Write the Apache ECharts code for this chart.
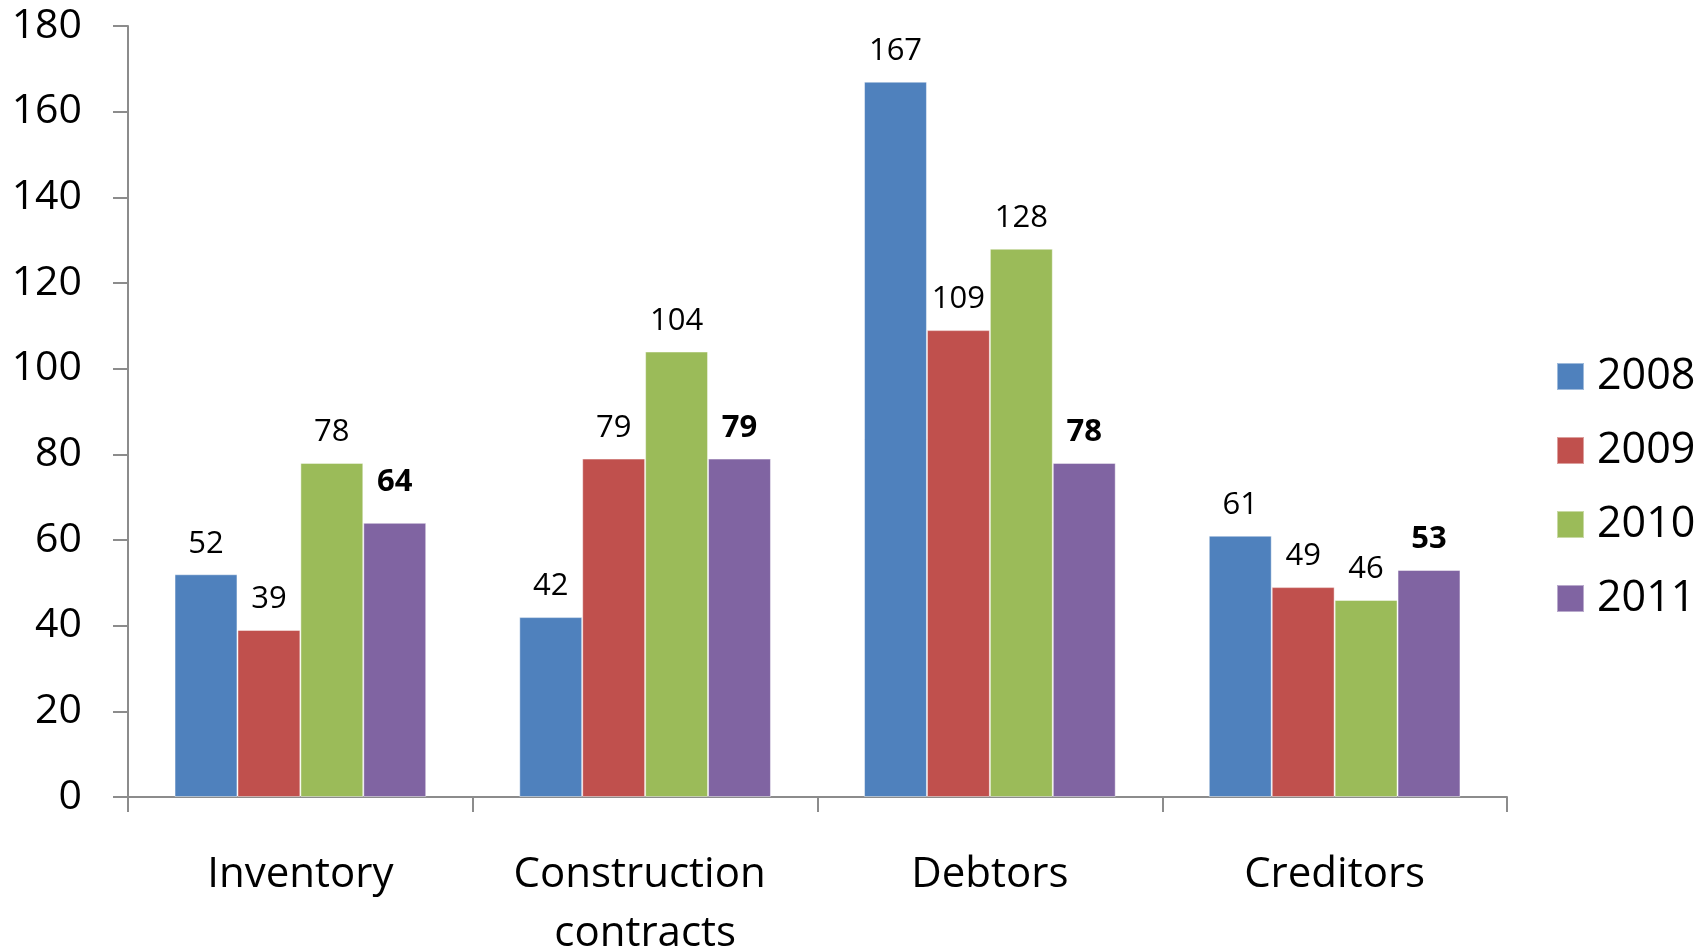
<!DOCTYPE html>
<html>
<head>
<meta charset="utf-8">
<script src="https://cdn.jsdelivr.net/npm/echarts@6/dist/echarts.min.js"></script>
<style>
  html, body { margin: 0; padding: 0; background: #fff; }
  #chart { width: 1708px; height: 951px; }
</style>
</head>
<body>
<div id="chart"></div>
<script>
// Balance-sheet items by year
const categories = ['Inventory', 'Construction contracts', 'Debtors', 'Creditors'];
const years = ['2008', '2009', '2010', '2011'];
const values2008 = [52, 42, 167, 61];
const values2009 = [39, 79, 109, 49];
const values2010 = [78, 104, 128, 46];
const values2011 = [64, 79, 78, 53];
const yTicks = [0, 20, 40, 60, 80, 100, 120, 140, 160, 180];

const colors = ['#4F81BD', '#C0504D', '#9BBB59', '#8064A2'];
const seriesValues = [values2008, values2009, values2010, values2011];
const FONT = '"Open Sans", "Noto Sans", sans-serif';

const chart = echarts.init(document.getElementById('chart'), null, { renderer: 'canvas' });

const series = years.map((y, i) => ({
  name: y,
  type: 'bar',
  // the 2011 Inventory label sits a little higher than the rest
  data: seriesValues[i].map((v, j) =>
    (i === 3 && j === 0) ? { value: v, label: { offset: [0, -10] } } : v),
  barGap: '0%',
  barCategoryGap: '27%',
  itemStyle: { color: colors[i], borderColor: 'rgba(255,255,255,0.45)', borderWidth: 1 },
  label: {
    show: true,
    position: 'top',
    distance: 15,
    fontFamily: FONT,
    fontSize: 31,
    color: '#000',
    fontWeight: i === 3 ? 'bold' : 'normal'
  }
}));

chart.setOption({
  animation: false,
  color: colors,
  grid: {
    left: 128, top: 26, width: 1379, height: 771,
    containLabel: false,
    outerBoundsMode: 'none'
  },
  legend: {
    orient: 'vertical',
    left: 1556,
    top: 354,
    padding: 0,
    itemWidth: 27,
    itemHeight: 27,
    itemGap: 29,
    icon: 'rect',
    data: years,
    textStyle: {
      fontFamily: FONT, fontSize: 43, color: '#000', lineHeight: 45,
      padding: [0, 0, 0, 8]
    }
  },
  xAxis: {
    type: 'category',
    data: categories,
    axisLine: { lineStyle: { color: '#8c8c8c', width: 2 } },
    axisTick: { show: true, length: 15, lineStyle: { color: '#8c8c8c', width: 2 } },
    axisLabel: {
      interval: 0,
      margin: 49,
      fontFamily: FONT,
      fontSize: 42,
      color: '#000',
      lineHeight: 59,
      width: 330,
      overflow: 'break'
    }
  },
  yAxis: {
    type: 'value',
    min: yTicks[0],
    max: yTicks[yTicks.length - 1],
    interval: yTicks[1] - yTicks[0],
    splitLine: { show: false },
    axisLine: { show: true, lineStyle: { color: '#8c8c8c', width: 2 } },
    axisTick: { show: true, length: 15, lineStyle: { color: '#8c8c8c', width: 2 } },
    axisLabel: {
      margin: 46, fontFamily: FONT, fontSize: 41, color: '#000',
      padding: [4, 0, 0, 0]
    }
  },
  series: series
});
</script>
</body>
</html>
